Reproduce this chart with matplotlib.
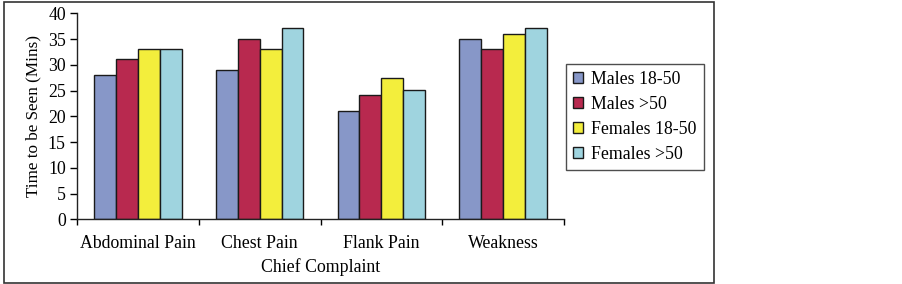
import matplotlib
matplotlib.use("Agg")
import matplotlib.pyplot as plt
import numpy as np
from matplotlib.patches import Rectangle

categories = ["Abdominal Pain", "Chest Pain", "Flank Pain", "Weakness"]
series_names = ["Males 18-50", "Males >50", "Females 18-50", "Females >50"]
males_18_50 = [28.0, 29.0, 21.0, 35.0]
males_50 = [31.1, 35.0, 24.1, 33.1]
females_18_50 = [33.1, 33.1, 27.5, 36.0]
females_50 = [33.1, 37.2, 25.2, 37.2]
series = [males_18_50, males_50, females_18_50, females_50]
colors = ["#8797C8", "#B8294F", "#F3EE3C", "#9FD4DF"]
yticks = [0, 5, 10, 15, 20, 25, 30, 35, 40]

plt.rcParams['font.family'] = ['Liberation Serif', 'DejaVu Serif']

fig = plt.figure(figsize=(9.02, 2.84), dpi=100)
W, H = 902, 284
ax = fig.add_axes([77 / W, 1 - 219.3 / H, (564 - 77) / W, (219.3 - 13.3) / H])

x = np.arange(len(categories))
bw = 0.18
for i, (vals, c, name) in enumerate(zip(series, colors, series_names)):
    ax.bar(x + (i - 1.5) * bw, vals, width=bw, color=c, edgecolor="#1a1a1a",
           linewidth=1.0, label=name)

ax.set_xlim(-0.5, len(categories) - 0.5)
ax.set_ylim(0, 40)
ax.set_yticks(yticks)
ax.set_xticks(x)
ax.set_xticklabels(categories, fontsize=12.8)
ax.set_xticks(np.arange(-0.5, len(categories)), minor=True)
ax.tick_params(axis='x', which='major', length=0, pad=11)
ax.tick_params(axis='x', which='minor', length=4, width=1, direction='out')
ax.tick_params(axis='y', labelsize=12.8, length=5, width=1, direction='out', pad=3)
for s in ["top", "right"]:
    ax.spines[s].set_visible(False)
for s in ["left", "bottom"]:
    ax.spines[s].set_linewidth(1.0)
    ax.spines[s].set_color("#222222")

ax.set_ylabel("Time to be Seen (Mins)", fontsize=12.3, labelpad=5)
ax.set_xlabel("Chief Complaint", fontsize=12.8, labelpad=5)

leg = ax.legend(loc="upper left", bbox_to_anchor=(566 / W, 1 - 170 / H, (704 - 566) / W, (170 - 64) / H),
                bbox_transform=fig.transFigure, mode="expand", frameon=True, fancybox=False,
                fontsize=12.8, handlelength=0.55, handleheight=0.55, handletextpad=0.45,
                labelspacing=0.45, borderpad=0.4, borderaxespad=0)
leg.get_frame().set_edgecolor("#222222")
leg.get_frame().set_linewidth(1.0)

fig.patches.append(Rectangle((4 / W, 1 / H), (714 - 4) / W, (283 - 2) / H, transform=fig.transFigure,
                             fill=False, edgecolor="#333333", linewidth=1.2))

fig.savefig("out.png", dpi=100)
